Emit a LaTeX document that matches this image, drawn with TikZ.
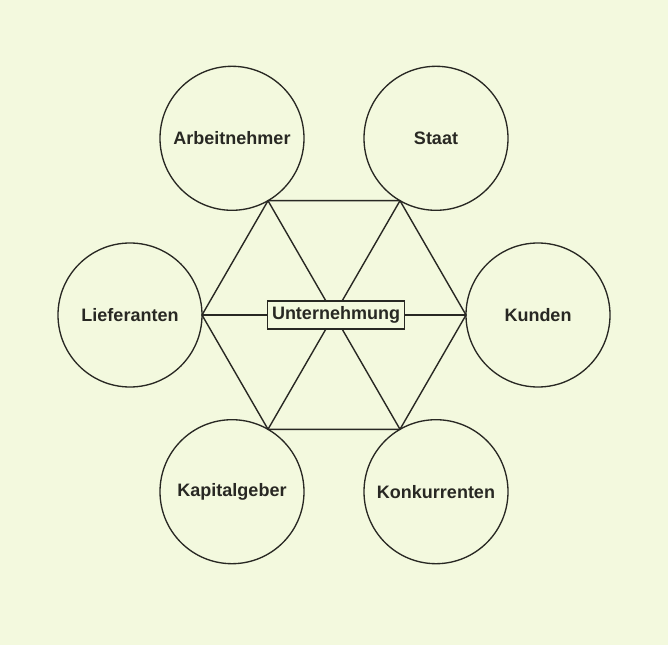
\documentclass[tikz,border=0pt]{standalone}
\usepackage{fontspec}
\setmainfont{Liberation Sans}
\definecolor{bg}{RGB}{243,249,222}
\definecolor{ink}{RGB}{40,40,35}
\begin{document}
\begin{tikzpicture}[x=0.75pt,y=-0.75pt,
  party/.style={circle,draw=ink,line width=1pt,minimum size=108pt,inner sep=0pt,
    font=\fontsize{13.5}{16}\selectfont\bfseries,text=ink},
  link/.style={draw=ink,line width=1.05pt},
  corebox/.style={draw=ink,line width=1pt,fill=bg,inner xsep=3.5pt,inner ysep=0pt,
    minimum height=21pt,font=\fontsize{13.5}{16}\selectfont\bfseries,text=ink}]
\fill[bg] (0,0) rectangle (668,645);
\useasboundingbox (0,0) rectangle (668,645);
% hexagon vertices
\coordinate (c) at (334,315);
\coordinate (vR) at (466,315);
\coordinate (vL) at (202,315);
\coordinate (vTR) at (400,200.7);
\coordinate (vTL) at (268,200.7);
\coordinate (vBR) at (400,429.3);
\coordinate (vBL) at (268,429.3);
% circles
\node[party] (arb) at (232,138.3) {Arbeitnehmer};
\node[party] (staat) at (436,138.3) {Staat};
\node[party] (lief) at (130,315) {Lieferanten};
\node[party] (kund) at (538,315) {Kunden};
\node[party] (kap) at (232,491.7) {Kapitalgeber};
\node[party] (konk) at (436,491.7) {Konkurrenten};
% hexagon
\draw[link] (vTL) -- (vTR) -- (vR) -- (vBR) -- (vBL) -- (vL) -- cycle;
% diagonals
\draw[link] (vL) -- (vR);
\draw[link] (vTL) -- (vBR);
\draw[link] (vTR) -- (vBL);
% center box
\node[corebox] (unt) at (336,315) {Unternehmung};
\end{tikzpicture}
\end{document}
